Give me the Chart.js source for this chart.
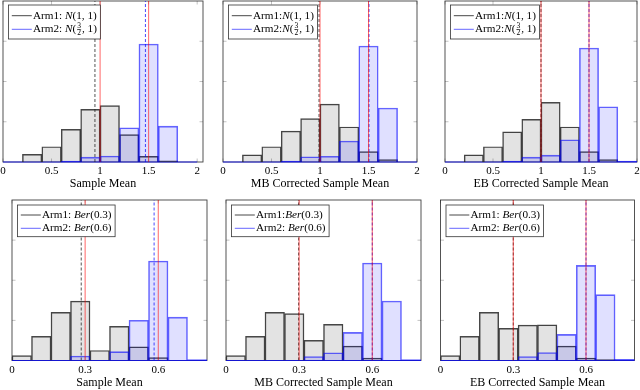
<!DOCTYPE html>
<html>
<head>
<meta charset="utf-8">
<script src="https://cdn.jsdelivr.net/npm/chart.js@4.4.0/dist/chart.umd.min.js"></script>
<style>
  html, body { margin: 0; padding: 0; background: #fff; }
  #wrap { position: relative; width: 640px; height: 390px; overflow: hidden; }
  #wrap canvas { position: absolute; }
</style>
</head>
<body>
<div id="wrap"></div>
<script>
// bin centres: width 0.2 for the Normal arms, 0.08 for the Bernoulli arms
const normalBins = [0.1, 0.3, 0.5, 0.7, 0.9, 1.1, 1.3, 1.5, 1.7, 1.9];
const bernBins = [0.04, 0.12, 0.2, 0.28, 0.36, 0.44, 0.52, 0.6, 0.68, 0.76];
const normalTicks = [0, 0.5, 1, 1.5, 2];
const bernTicks = [0, 0.3, 0.6];
const normalTrue = [1, 1.5];
const bernTrue = [0.3, 0.6];

// top row (Normal arms)
const smNormArm1 = [0, 0.19, 0.38, 0.81, 1.31, 1.40, 0.68, 0.14, 0.03, 0];
const smNormArm2 = [0, 0, 0, 0.02, 0.12, 0.15, 0.85, 2.93, 0.89, 0];
const smNormMeans = [0.947, 1.467];
const mbNormArm1 = [0, 0.18, 0.38, 0.77, 1.08, 1.44, 0.87, 0.26, 0.06, 0];
const mbNormArm2 = [0, 0, 0, 0.02, 0.13, 0.14, 0.52, 2.88, 1.34, 0];
const mbNormMeans = [0.99, 1.505];
const ebNormArm1 = [0, 0.18, 0.38, 0.75, 1.06, 1.48, 0.87, 0.26, 0.06, 0];
const ebNormArm2 = [0, 0, 0, 0.02, 0.12, 0.17, 0.55, 2.83, 1.37, 0.02];
const ebNormMeans = [1.0, 1.5];

// bottom row (Bernoulli arms)
const smBernArm1 = [0.12, 0.6, 1.2, 1.48, 0.25, 0.85, 0.34, 0.07, 0, 0];
const smBernArm2 = [0, 0, 0, 0.11, 0, 0.22, 1.0, 2.48, 1.08, 0.02];
const smBernMeans = [0.284, 0.583];
const mbBernArm1 = [0.12, 0.6, 1.2, 1.17, 0.5, 0.9, 0.36, 0.06, 0, 0];
const mbBernArm2 = [0, 0, 0, 0, 0.1, 0.19, 0.7, 2.43, 1.48, 0.02];
const mbBernMeans = [0.298, 0.6];
const ebBernArm1 = [0.12, 0.6, 1.2, 0.8, 0.88, 0.89, 0.36, 0.06, 0.02, 0];
const ebBernArm2 = [0, 0, 0, 0, 0.1, 0.2, 0.65, 2.37, 1.64, 0.03];
const ebBernMeans = [0.3, 0.6];

const xTitles = ['Sample Mean', 'MB Corrected Sample Mean', 'EB Corrected Sample Mean'];

// legend text pieces: r = roman, i = italic (math), f = fraction "num|den"
const legNormSp = [[['Arm1: ', 'r'], ['N', 'i'], ['(1, 1)', 'r']],
                   [['Arm2: ', 'r'], ['N', 'i'], ['(', 'r'], ['3|2', 'f'], [', 1)', 'r']]];
const legNorm = [[['Arm1:', 'r'], ['N', 'i'], ['(1, 1)', 'r']],
                 [['Arm2:', 'r'], ['N', 'i'], ['(', 'r'], ['3|2', 'f'], [', 1)', 'r']]];
const legBernSp = [[['Arm1: ', 'r'], ['Ber', 'i'], ['(0.3)', 'r']],
                   [['Arm2: ', 'r'], ['Ber', 'i'], ['(0.6)', 'r']]];
const legBernMix = [[['Arm1:', 'r'], ['Ber', 'i'], ['(0.3)', 'r']],
                    [['Arm2: ', 'r'], ['Ber', 'i'], ['(0.6)', 'r']]];

const SERIF = '"Liberation Serif", "DejaVu Serif", serif';
const LEG_SIZE = 11.2;
const RED = 'rgba(255,0,0,0.6)';
const GRAY_EDGE = 'rgba(40,40,40,0.85)';
const BLUE_EDGE = 'rgba(0,0,255,0.6)';

// plot areas in page pixels: [left, right, top, bottom]
const panels = [
  { area: [3, 203, 1, 162], bins: normalBins, w: 0.2, xmax: 2.06, ticks: normalTicks, a1: smNormArm1, a2: smNormArm2, means: smNormMeans, truth: normalTrue, title: xTitles[0], legend: legNormSp, top: true },
  { area: [223, 417, 1, 162], bins: normalBins, w: 0.2, xmax: 2, ticks: normalTicks, a1: mbNormArm1, a2: mbNormArm2, means: mbNormMeans, truth: normalTrue, title: xTitles[1], legend: legNorm, top: true },
  { area: [445, 637, 1, 162], bins: normalBins, w: 0.2, xmax: 2, ticks: normalTicks, a1: ebNormArm1, a2: ebNormArm2, means: ebNormMeans, truth: normalTrue, title: xTitles[2], legend: legNorm, top: true },
  { area: [12, 207, 200, 360.5], bins: bernBins, w: 0.08, xmax: 0.8, ticks: bernTicks, a1: smBernArm1, a2: smBernArm2, means: smBernMeans, truth: bernTrue, title: xTitles[0], legend: legBernSp, top: false },
  { area: [226, 421, 200, 360.5], bins: bernBins, w: 0.08, xmax: 0.8, ticks: bernTicks, a1: mbBernArm1, a2: mbBernArm2, means: mbBernMeans, truth: bernTrue, title: xTitles[1], legend: legBernMix, top: false },
  { area: [440.5, 634.5, 200, 360.5], bins: bernBins, w: 0.08, xmax: 0.8, ticks: bernTicks, a1: ebBernArm1, a2: ebBernArm2, means: ebBernMeans, truth: bernTrue, title: xTitles[2], legend: legBernSp, top: false }
];

function segWidth(ctx, segs) {
  let w = 0;
  for (const [t, k] of segs) {
    if (k === 'f') {
      ctx.font = '7.5px ' + SERIF;
      w += Math.max(...t.split('|').map(s => ctx.measureText(s).width)) + 2;
    } else {
      ctx.font = (k === 'i' ? 'italic ' : '') + LEG_SIZE + 'px ' + SERIF;
      w += ctx.measureText(t).width;
    }
  }
  return w;
}

function drawSegs(ctx, segs, x, y) {
  ctx.fillStyle = '#000';
  ctx.textBaseline = 'middle';
  for (const [t, k] of segs) {
    if (k === 'f') {
      const [n, d] = t.split('|');
      ctx.font = '7.5px ' + SERIF;
      const fw = Math.max(ctx.measureText(n).width, ctx.measureText(d).width);
      ctx.textAlign = 'center';
      ctx.fillText(n, x + 1 + fw / 2, y - 3.5);
      ctx.fillText(d, x + 1 + fw / 2, y + 3.9);
      ctx.fillRect(x + 0.8, y - 0.1, fw + 0.4, 0.5);
      ctx.textAlign = 'left';
      x += fw + 2;
    } else {
      ctx.font = (k === 'i' ? 'italic ' : '') + LEG_SIZE + 'px ' + SERIF;
      ctx.textAlign = 'left';
      ctx.fillText(t, x, y);
      x += ctx.measureText(t).width;
    }
  }
}

const framePlugin = {
  id: 'frame',
  beforeDatasetsDraw(chart, args, opts) {
    const { ctx, chartArea: a, scales: { x, y } } = chart;
    ctx.save();
    ctx.strokeStyle = 'rgba(0,0,0,0.3)';
    ctx.lineWidth = 0.8;
    ctx.beginPath();
    for (const v of opts.ticks) {
      const px = x.getPixelForValue(v);
      ctx.moveTo(px, a.bottom); ctx.lineTo(px, a.bottom - 3.5);
      ctx.moveTo(px, a.top); ctx.lineTo(px, a.top + 3.5);
    }
    for (const v of [1, 2, 3]) {
      const py = y.getPixelForValue(v);
      ctx.moveTo(a.left, py); ctx.lineTo(a.left + 3.5, py);
      ctx.moveTo(a.right, py); ctx.lineTo(a.right - 3.5, py);
    }
    ctx.stroke();
    ctx.strokeStyle = 'rgba(0,0,0,0.75)';
    ctx.lineWidth = 0.9;
    ctx.strokeRect(a.left, a.top, a.right - a.left, a.bottom - a.top);
    // empty bins of arm 2 show as a blue line on the baseline
    ctx.strokeStyle = 'rgba(0,0,255,0.75)';
    ctx.lineWidth = 1;
    ctx.beginPath();
    ctx.moveTo(x.getPixelForValue(opts.bins[0] - opts.w / 2), a.bottom);
    ctx.lineTo(x.getPixelForValue(opts.bins[opts.bins.length - 1] + opts.w / 2), a.bottom);
    ctx.stroke();
    ctx.restore();
  },
  afterDatasetsDraw(chart, args, opts) {
    const { ctx, chartArea: a } = chart;
    const rows = opts.legend;
    ctx.save();
    const bx = a.left + 5.5, by = a.top + (opts.top ? 4 : 5);
    const r1 = opts.top ? 10.7 : 10, gap = opts.top ? 13.6 : 13.3, bh = opts.top ? 34 : 31.7;
    const tw = Math.max(...rows.map(r => segWidth(ctx, r)));
    const bw = 24.5 + tw + 3.5;
    ctx.fillStyle = '#fff';
    ctx.fillRect(bx, by, bw, bh);
    ctx.strokeStyle = 'rgba(0,0,0,0.8)';
    ctx.lineWidth = 0.8;
    ctx.strokeRect(bx, by, bw, bh);
    const lineCols = ['rgba(40,40,40,0.85)', 'rgba(0,0,255,0.6)'];
    rows.forEach((r, i) => {
      const ry = by + r1 + i * gap;
      ctx.strokeStyle = lineCols[i];
      ctx.lineWidth = 1;
      ctx.beginPath();
      ctx.moveTo(bx + 3.3, ry); ctx.lineTo(bx + 23.3, ry);
      ctx.stroke();
      drawSegs(ctx, r, bx + 24.5, ry);
    });
    ctx.restore();
  }
};

const vline = v => [{ x: v, y: 0 }, { x: v, y: 4 }];
const bars = (bins, vals) => bins.map((c, i) => ({ x: c, y: vals[i] }));

const wrap = document.getElementById('wrap');
panels.forEach(p => {
  const [L, R, T, B] = p.area;
  const cl = Math.floor(L) - 10, cr = Math.ceil(R) + 10;
  const ct = p.top ? 0 : 195, cb = ct + 195;
  const cv = document.createElement('canvas');
  cv.width = cr - cl; cv.height = cb - ct;
  cv.style.left = cl + 'px'; cv.style.top = ct + 'px';
  cv.style.width = (cr - cl) + 'px'; cv.style.height = (cb - ct) + 'px';
  wrap.appendChild(cv);
  const axisH = cb - B;

  new Chart(cv.getContext('2d'), {
    type: 'bar',
    data: {
      datasets: [
        { type: 'line', data: vline(p.truth[0]), borderColor: RED, borderWidth: 1, pointRadius: 0, order: 0 },
        { type: 'line', data: vline(p.truth[1]), borderColor: RED, borderWidth: 1, pointRadius: 0, order: 0 },
        { type: 'line', data: vline(p.means[0]), borderColor: 'rgba(30,30,30,0.85)', borderWidth: 0.9, borderDash: [3, 2], pointRadius: 0, order: 1 },
        { type: 'line', data: vline(p.means[1]), borderColor: 'rgba(0,0,255,0.8)', borderWidth: 0.9, borderDash: [3, 2], pointRadius: 0, order: 1 },
        { type: 'bar', data: bars(p.bins, p.a2), backgroundColor: 'rgba(0,0,255,0.12)', borderColor: BLUE_EDGE, borderWidth: 0.9,
          grouped: false, barPercentage: 1, categoryPercentage: 1, order: 2 },
        { type: 'bar', data: bars(p.bins, p.a1), backgroundColor: 'rgba(0,0,0,0.11)', borderColor: GRAY_EDGE, borderWidth: 0.8,
          grouped: false, barPercentage: 1, categoryPercentage: 1, order: 3 }
      ]
    },
    options: {
      responsive: false,
      animation: false,
      devicePixelRatio: 1,
      layout: { padding: { left: L - cl, right: cr - R, top: T - ct, bottom: 0 } },
      plugins: {
        legend: { display: false },
        tooltip: { enabled: false },
        frame: { ticks: p.ticks, bins: p.bins, w: p.w, legend: p.legend, top: p.top }
      },
      scales: {
        x: {
          type: 'linear',
          min: 0,
          max: p.xmax,
          offset: false,
          grid: { display: false, drawTicks: false },
          border: { display: false },
          afterBuildTicks: s => { s.ticks = p.ticks.map(v => ({ value: v })); },
          afterFit: s => { s.height = axisH; },
          ticks: {
            padding: 3,
            maxRotation: 0,
            color: '#000',
            font: { family: SERIF, size: 11 },
            callback: v => String(v)
          },
          title: {
            display: true,
            text: p.title,
            color: '#000',
            font: { family: SERIF, size: 12 },
            padding: { top: 0, bottom: p.top ? 4 : 0 }
          }
        },
        y: { display: false, min: 0, max: 4 }
      }
    },
    plugins: [framePlugin]
  });
});
</script>
</body>
</html>
